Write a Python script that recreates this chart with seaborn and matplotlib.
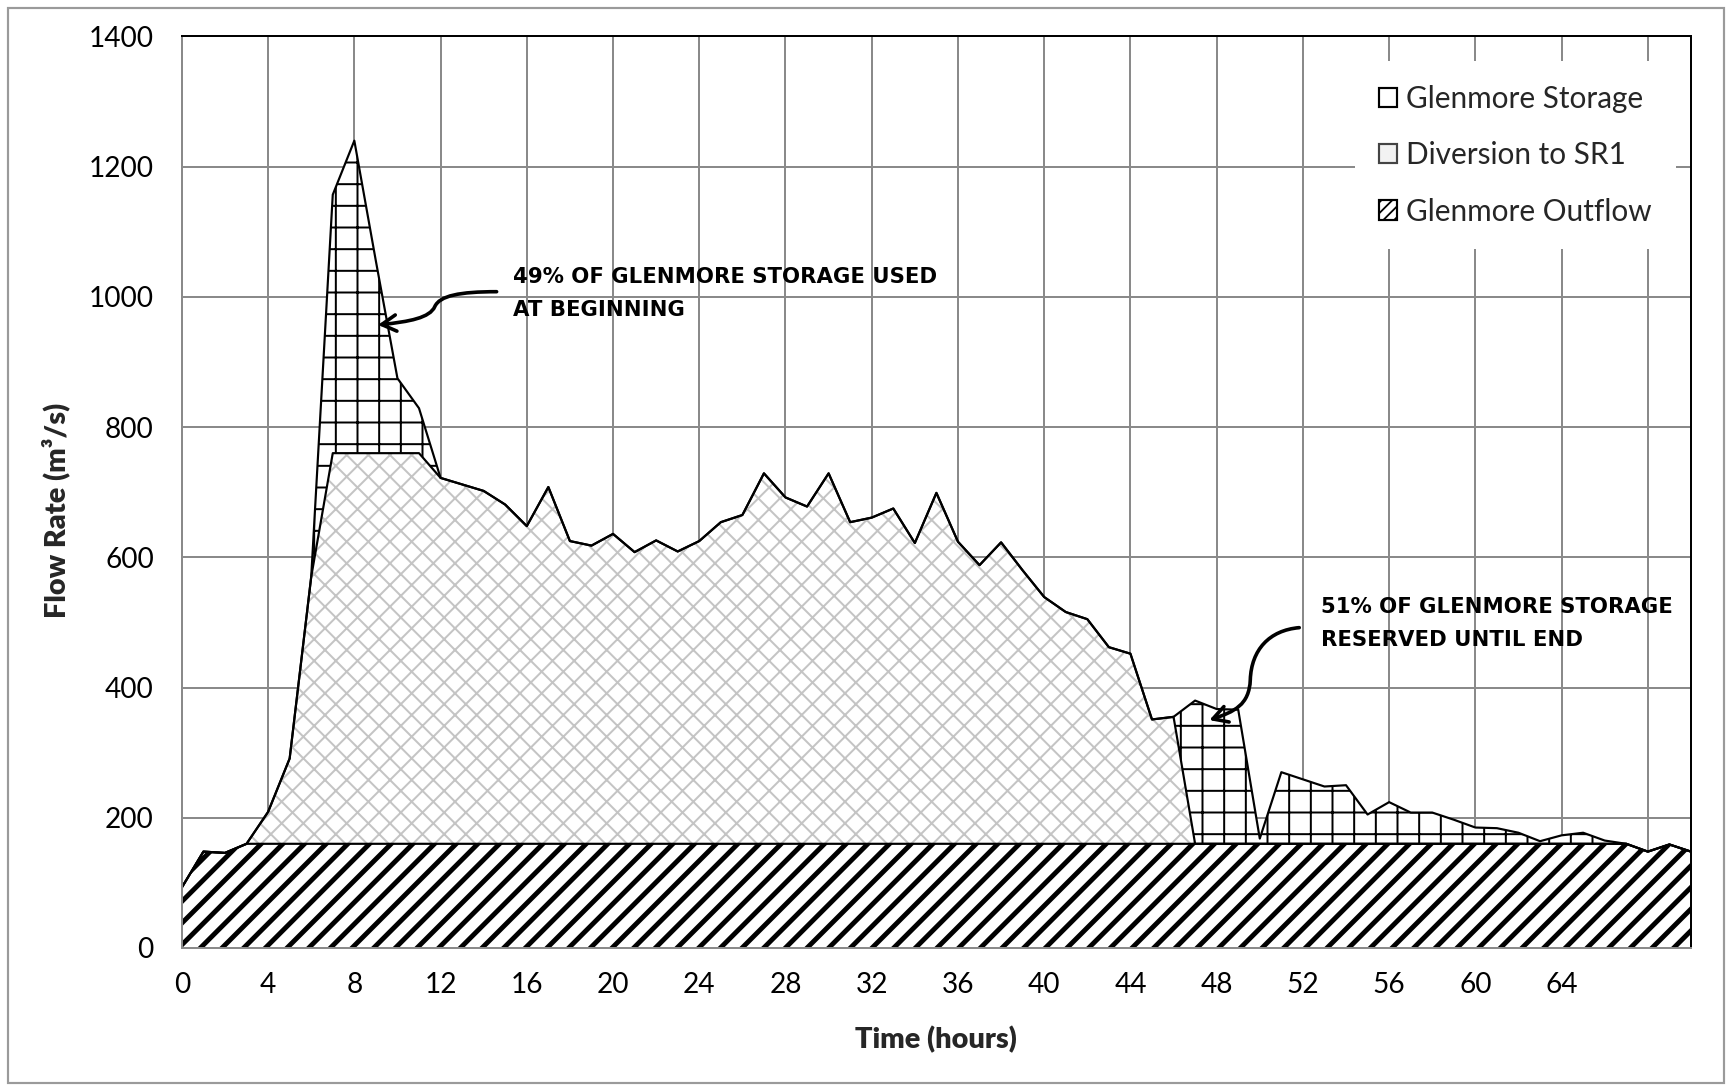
# Glenmore storage / SR1 diversion / outflow - stacked hatched area chart
import numpy as np
import pandas as pd
import matplotlib
matplotlib.use('Agg')
import matplotlib.pyplot as plt
import seaborn as sns
from matplotlib.patches import Patch, Rectangle, FancyArrowPatch
from matplotlib.path import Path
from matplotlib.ticker import MultipleLocator, FixedLocator

# ------------------------------------------------------------------
# data (hourly values 0..70 h, m3/s)
# ------------------------------------------------------------------
hours = np.arange(0, 71)

outflow = [93, 148, 146, 160, 160, 160, 160, 160, 160, 160,
           160, 160, 160, 160, 160, 160, 160, 160, 160, 160,
           160, 160, 160, 160, 160, 160, 160, 160, 160, 160,
           160, 160, 160, 160, 160, 160, 160, 160, 160, 160,
           160, 160, 160, 160, 160, 160, 160, 160, 160, 160,
           160, 160, 160, 160, 160, 160, 160, 160, 160, 160,
           160, 160, 160, 160, 160, 160, 160, 160, 148, 159,
           148]

diversion = [0, 0, 0, 0, 49, 131, 410, 600, 600, 600,
             600, 600, 562, 552, 542, 521, 488, 548, 465, 458,
             476, 448, 466, 449, 465, 494, 505, 569, 532, 518,
             569, 494, 501, 515, 462, 539, 464, 428, 463, 420,
             379, 356, 345, 302, 292, 191, 195, 0, 0, 0,
             0, 0, 0, 0, 0, 0, 0, 0, 0, 0,
             0, 0, 0, 0, 0, 0, 0, 0, 0, 0,
             0]

storage = [0, 0, 0, 0, 0, 0, 0, 397, 480, 295,
           115, 69, 0, 0, 0, 0, 0, 0, 0, 0,
           0, 0, 0, 0, 0, 0, 0, 0, 0, 0,
           0, 0, 0, 0, 0, 0, 0, 0, 0, 0,
           0, 0, 0, 0, 0, 0, 0, 220, 207, 206,
           8, 110, 99, 88, 90, 45, 64, 48, 48, 37,
           25, 24, 17, 4, 13, 17, 5, 0, 0, 0,
           0]

series_names = ['Glenmore Storage', 'Diversion to SR1', 'Glenmore Outflow']
x_labels = ['0', '4', '8', '12', '16', '20', '24', '28', '32', '36',
            '40', '44', '48', '52', '56', '60', '64', '']

df = pd.DataFrame({'hour': hours, 'outflow': outflow,
                   'diversion': diversion, 'storage': storage})
df['top_outflow'] = df['outflow']
df['top_diversion'] = df['top_outflow'] + df['diversion']
df['top_storage'] = df['top_diversion'] + df['storage']

# ------------------------------------------------------------------
# style
# ------------------------------------------------------------------
sns.set_style('white')
plt.rcParams['font.family'] = ['Lato', 'DejaVu Sans']
GRID = '#8a8a8a'

DPI = 130
fig = plt.figure(figsize=(1732 / DPI, 1089 / DPI), dpi=DPI)
ax = fig.add_axes([0.105, 0.1295, 0.8713, 0.837])

# chart-area border
fig.patches.append(Rectangle((0.0046, 0.0055), 0.9908, 0.9872,
                             transform=fig.transFigure, fill=False,
                             edgecolor='#9a9a9a', linewidth=1.2))


def hatched_fill(lo, hi, hatch, color, lw):
    with plt.rc_context({'hatch.linewidth': lw}):
        poly = ax.fill_between(df['hour'], lo, hi, facecolor='white',
                               edgecolor=color, hatch=hatch, linewidth=0,
                               zorder=2)
    if hasattr(poly, 'set_hatch_linewidth'):
        poly.set_hatch_linewidth(lw)
    return poly


hatched_fill(0, df['top_outflow'], '//', 'black', 2.7)
hatched_fill(df['top_outflow'], df['top_diversion'], 'xx', '#c4c4c4', 1.1)
hatched_fill(df['top_diversion'], df['top_storage'], '+', 'black', 1.1)

# layer outlines
long = df.melt(id_vars='hour',
               value_vars=['top_outflow', 'top_diversion', 'top_storage'],
               var_name='layer', value_name='flow')
sns.lineplot(data=long, x='hour', y='flow', hue='layer',
             palette=['black'] * 3, estimator=None, legend=False,
             linewidth=1.2, ax=ax, zorder=3)

# ------------------------------------------------------------------
# axes
# ------------------------------------------------------------------
ax.set_xlim(0, 70)
ax.set_ylim(0, 1400)
ax.xaxis.set_major_locator(FixedLocator(np.arange(0, 69, 4)))
ax.xaxis.set_minor_locator(FixedLocator(np.arange(2, 71, 4)))
ax.set_xticklabels(x_labels)
ax.yaxis.set_major_locator(MultipleLocator(200))
ax.yaxis.set_minor_locator(MultipleLocator(50))

ax.grid(True, which='major', color=GRID, linewidth=1.1)
ax.set_axisbelow(True)

ax.tick_params(axis='both', which='both', direction='out', length=4.5,
               width=1.1, color=GRID, labelsize=15.5, labelcolor='black')
ax.tick_params(axis='y', which='both', pad=11)
ax.tick_params(axis='x', which='both', pad=9)

for side in ['left', 'bottom']:
    ax.spines[side].set_color(GRID)
    ax.spines[side].set_linewidth(1.1)
for side in ['top', 'right']:
    ax.spines[side].set_color('black')
    ax.spines[side].set_linewidth(1.1)
for sp in ax.spines.values():
    sp.set_zorder(4)

ax.set_xlabel('Time (hours)', fontsize=16, fontweight='heavy')
ax.set_ylabel('Flow Rate (m³/s)', fontsize=16, fontweight='heavy')
ax.xaxis.set_label_coords(0.5, -0.086)
ax.yaxis.set_label_coords(-0.074, 0.48)

# ------------------------------------------------------------------
# legend
# ------------------------------------------------------------------
handles = [
    Patch(facecolor='white', edgecolor='black', linewidth=1.2),
    Patch(facecolor='#f2f2f2', edgecolor='#444444', linewidth=1.2),
    Patch(facecolor='white', edgecolor='black', hatch='////', linewidth=1.2),
]
leg = ax.legend(handles, series_names, loc='upper right',
                bbox_to_anchor=(0.990, 0.973), fontsize=16.5,
                frameon=True, framealpha=1, facecolor='white',
                edgecolor='none', fancybox=False, handlelength=0.62,
                handleheight=0.62, handletextpad=0.3, labelspacing=0.95,
                borderpad=0.8, borderaxespad=0)
leg.set_zorder(5)

# ------------------------------------------------------------------
# annotations
# ------------------------------------------------------------------
ann_font = dict(fontsize=11.8, fontweight='bold', family='DejaVu Sans',
                color='black', va='center', ha='left', zorder=6)
ax.text(15.35, 1031, '49% OF GLENMORE STORAGE USED', **ann_font)
ax.text(15.35, 980, 'AT BEGINNING', **ann_font)
ax.text(52.85, 523, '51% OF GLENMORE STORAGE', **ann_font)
ax.text(52.85, 473, 'RESERVED UNTIL END', **ann_font)

curve = [Path.MOVETO] + [Path.CURVE4] * 6
arrow1 = Path([(14.60, 1008), (12.89, 1008), (11.96, 1002), (11.73, 985),
               (11.50, 968), (10.57, 962), (9.10, 957)], curve)
arrow2 = Path([(51.83, 492), (50.44, 488), (49.61, 458), (49.56, 412),
               (49.51, 373), (48.82, 363), (47.66, 350)], curve)
for p in (arrow1, arrow2):
    ax.add_patch(FancyArrowPatch(path=p, arrowstyle='->,head_length=8,head_width=4.5',
                                 color='black', linewidth=2.0,
                                 transform=ax.transData, zorder=6))

fig.savefig('out.png', dpi=DPI)
